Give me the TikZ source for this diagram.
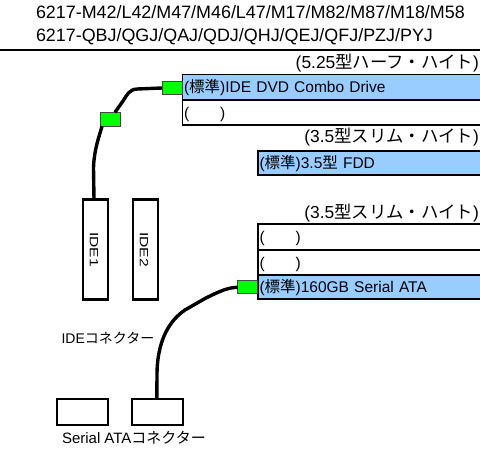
\documentclass[tikz,border=0pt]{standalone}
\usepackage{graphicx}
\usepackage{fontspec}
\setmainfont{Liberation Sans}
\newfontfamily\jpf{Noto Sans CJK JP}
\newcommand{\myfs}[1]{\fontsize{#1pt}{#1pt}\selectfont}
\definecolor{rowblue}{RGB}{153,204,255}
\definecolor{pluggreen}{RGB}{0,255,0}
\definecolor{plugedge}{RGB}{70,70,70}
\begin{document}
\begin{tikzpicture}[x=1pt,y=-1pt,
  hdr/.style={font=\myfs{17.9}, inner sep=0pt, outer sep=0pt, anchor=base west},
  formf/.style={font=\myfs{17.4}, inner sep=0pt, outer sep=0pt, anchor=base east},
  drow/.style={draw, line width=1.8pt, outer sep=0pt, anchor=north west, text width=#1, inner xsep=1.5pt, inner ysep=0pt, align=left, text height=12.6pt, text depth=1.4pt, font=\myfs{15.5}},
  plug/.style={draw=plugedge, fill=pluggreen, line width=0.7pt, minimum width=20pt, minimum height=13pt, inner sep=0pt, outer sep=0pt},
  conbox/.style={draw, line width=2.1pt, fill=white, inner sep=0pt, outer sep=0pt},
  cable/.style={line width=3.4pt, line join=round},
  lbl/.style={inner sep=0pt, outer sep=0pt, anchor=base west},
  vlbl/.style={rotate=-90, inner sep=0pt, outer sep=0pt, font=\myfs{12}}
]
\useasboundingbox (0,0) rectangle (480,450);

% header
\node[hdr] (h1) at (36,18.5) {6217-M42/L42/M47/M46/L47/M17/M82/M87/M18/M58};
\node[hdr] (h2) at (36,41.5) {6217-QBJ/QGJ/QAJ/QDJ/QHJ/QEJ/QFJ/PZJ/PYJ};
\draw[line width=2pt] (0,49.5) -- (480,49.5);

% 5.25 bay
\node[formf] (f525) at (479,68.5) {(5.25{\jpf 型ハーフ・ハイト})};
\node[drow=296.5pt, minimum height=25.5pt, fill=rowblue] (dvd) at (182.5,74.5) {({\jpf 標準})IDE DVD Combo Drive};
\node[drow=296.5pt, minimum height=25pt] (dvde) at (dvd.south west) {(\hspace{2em})};

% 3.5 slim bay (FDD)
\node[formf] (f35a) at (479,142.5) {(3.5{\jpf 型スリム・ハイト})};
\node[drow=220.5pt, minimum height=24.3pt, fill=rowblue] (fdd) at (258,150.7) {({\jpf 標準})3.5{\jpf 型} FDD};

% 3.5 bays (HDD)
\node[formf] (f35b) at (479,218) {(3.5{\jpf 型スリム・ハイト})};
\node[drow=220.5pt, minimum height=25.7pt] (sa) at (258,224.3) {(\hspace{2em})};
\node[drow=220.5pt, minimum height=25pt] (sb) at (sa.south west) {(\hspace{2em})};
\node[drow=220.5pt, minimum height=24.3pt, fill=rowblue] (sc) at (sb.south west) {({\jpf 標準})160GB Serial ATA};

% plugs
\node[plug] (g1) at (172,88) {};
\node[plug, minimum height=14pt] (g2) at (110,119.3) {};
\node[plug] (g3) at (247.7,287.3) {};

% IDE connectors
\node[conbox, minimum width=25.6pt, minimum height=100pt] (ide1) at (95.5,249.5) {};
\node[conbox, minimum width=25.6pt, minimum height=100pt] (ide2) at (145.5,249.5) {};
\node[vlbl] (ide1t) at ([xshift=-1.5pt]ide1.center) {\scalebox{1.3}[1]{IDE1}};
\node[vlbl] (ide2t) at ([xshift=-1.5pt]ide2.center) {\scalebox{1.3}[1]{IDE2}};
\node[lbl, font=\myfs{14}] (idelbl) at (61.5,343.5) {IDE{\jpf コネクター}};

% SATA connectors
\node[conbox, minimum width=51pt, minimum height=25.7pt] (sat1) at (82.8,412.2) {};
\node[conbox, minimum width=51pt, minimum height=25.7pt] (sat2) at (157.8,412.2) {};
\node[lbl, font=\myfs{15}] (satalbl) at (62,443.3) {Serial ATA{\jpf コネクター}};

% cables
\draw[cable] (g1.west) -- (137,89) .. controls (129,89.5) and (127,95) .. (123,101) -- ([xshift=-5pt]g2.north east);
\draw[cable] ([xshift=-8pt]g2.south) .. controls (99,137) and (94,150) .. (93.5,168) -- ([xshift=-1.5pt]ide1.north);
\draw[cable] (g3.west) .. controls (228,287.5) and (220,291) .. (205,298.5) -- (185,310) .. controls (170,320) and (157,340) .. (157,375) -- ([xshift=-1pt]sat2.north);
\end{tikzpicture}
\end{document}
